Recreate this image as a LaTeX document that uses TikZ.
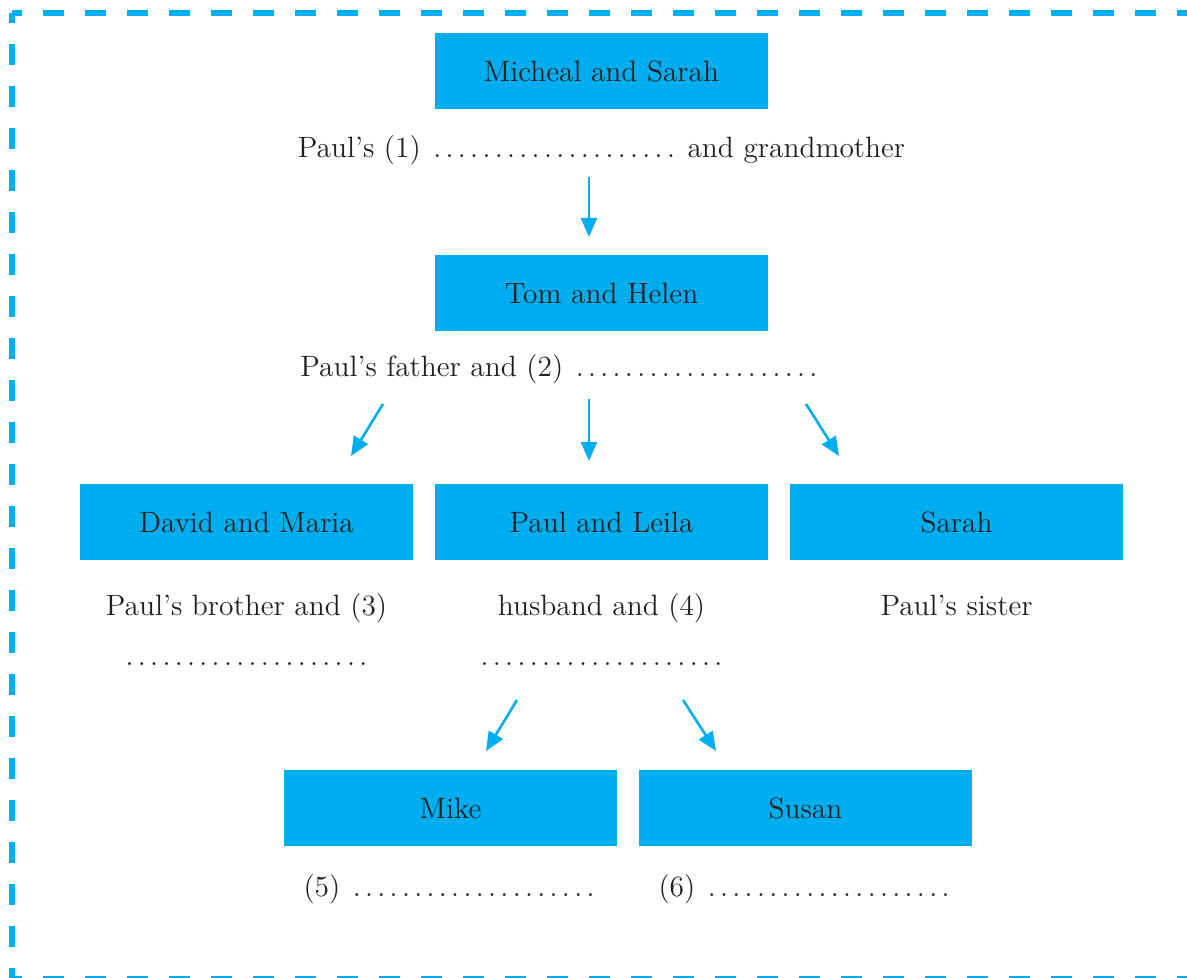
\documentclass[tikz,border=0pt]{standalone}
\usepackage{xcolor}
\usepackage{tikz}
\usetikzlibrary{arrows.meta}
\definecolor{famblue}{HTML}{00AEEF}
\definecolor{famtext}{HTML}{231F20}
\newcommand{\blank}{\kern-2.6pt\hbox to 129pt{\cleaders\hbox to 6.15pt{\hss.\hss}\hfill}\kern-2.6pt}

\begin{document}
\begin{tikzpicture}[x=0.5pt,y=-0.5pt,
  every node/.style={text=famtext,font=\fontsize{14.7}{17}\selectfont},
  box/.style={fill=famblue,minimum width=166.5pt,minimum height=38pt,inner sep=0pt},
  lbl/.style={anchor=base,inner sep=0pt},
  arr/.style={famblue,line width=1.3pt,-{Triangle[length=9.5pt,width=8pt]}},
  edge/.style={famblue,line width=2.65pt,dash pattern=on 10.5pt off 10.5pt,dash phase=5.5pt}]
\useasboundingbox (0,0) rectangle (1187,978);
\draw[edge] (12,13) -- (1200,13);
\draw[edge] (12,13) -- (12,995);
\draw[edge] (12,979) -- (1200,979);

\node[box] (ms) at (601.5,71) {Micheal and Sarah};
\node[lbl] (ms-l) at (601.5,158) {Paul's (1) \blank\ and grandmother};
\coordinate (a1s) at (589,177);
\coordinate (a1e) at (589,237);
\draw[arr] (a1s) -- (a1e);

\node[box] (th) at (601.5,293) {Tom and Helen};
\node[lbl,anchor=base west] (th-l) at (300,376) {Paul's father and (2) \blank};
\coordinate (a2s) at (383,404);
\coordinate (a2e) at (351,456);
\coordinate (a3s) at (589,399);
\coordinate (a3e) at (589,461);
\coordinate (a4s) at (806,404);
\coordinate (a4e) at (839,456);
\draw[arr] (a2s) -- (a2e);
\draw[arr] (a3s) -- (a3e);
\draw[arr] (a4s) -- (a4e);

\node[box] (dm) at (246.5,522) {David and Maria};
\node[box] (pl) at (601.5,522) {Paul and Leila};
\node[box] (sa) at (956.5,522) {Sarah};
\node[lbl] (dm-l) at (246.5,615) {Paul's brother and (3)};
\node[lbl] (dm-d) at (246.5,665) {\blank};
\node[lbl] (pl-l) at (601.5,615) {husband and (4)};
\node[lbl] (pl-d) at (601.5,665) {\blank};
\node[lbl] (sa-l) at (956.5,615) {Paul's sister};
\coordinate (a5s) at (517,700);
\coordinate (a5e) at (486,751);
\coordinate (a6s) at (683,700);
\coordinate (a6e) at (716,751);
\draw[arr] (a5s) -- (a5e);
\draw[arr] (a6s) -- (a6e);

\node[box] (mi) at (450.5,808) {Mike};
\node[box] (su) at (805.5,808) {Susan};
\node[lbl] (mi-l) at (450.5,896) {(5) \blank};
\node[lbl] (su-l) at (805.5,896) {(6) \blank};
\end{tikzpicture}
\end{document}
